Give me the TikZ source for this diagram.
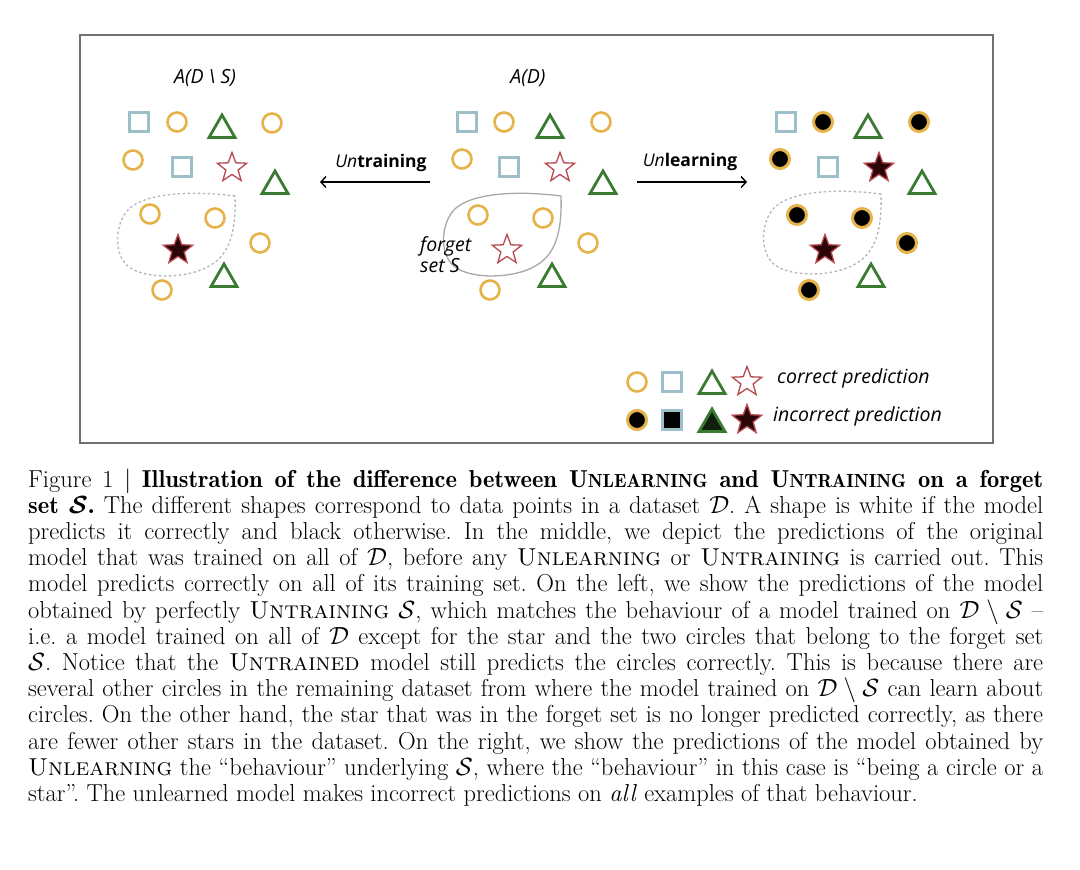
\documentclass[tikz,border=0pt]{standalone}
\usepackage{fontspec}
\newfontfamily\lab{Open Sans}
\usetikzlibrary{shapes.geometric,arrows.meta}
\definecolor{corange}{HTML}{E6B34A}
\definecolor{cblue}{HTML}{9DBFC8}
\definecolor{cgreen}{HTML}{3A7A32}
\definecolor{cred}{HTML}{B8474F}
\definecolor{cdstar}{HTML}{2B0608}
\definecolor{cdtri}{HTML}{0F1F0C}
\definecolor{cframe}{HTML}{707070}
\definecolor{cblob}{HTML}{A8A8A8}
\newcommand\bsc[1]{{\fontsize{19pt}{19pt}\selectfont #1}}
\newcommand\cS{\mathcal{S}}
\newcommand\cD{\mathcal{D}}
\newcommand\demi{\fontseries{b}\selectfont}
\frenchspacing
\begin{document}
\begin{tikzpicture}[x=1pt,y=-1pt,
 pt/.style={inner sep=0pt, outer sep=0pt},
 ccirc/.style={pt,circle,draw=corange,line width=2.6pt,minimum size=19pt},
 icirc/.style={ccirc,fill=black,line width=3pt},
 csq/.style={pt,rectangle,draw=cblue,line width=2.6pt,minimum size=19pt},
 isq/.style={csq,fill=black},
 ctri/.style={pt,regular polygon,regular polygon sides=3,draw=cgreen,line width=2.8pt,minimum size=30pt},
 itri/.style={ctri,fill=cdtri},
 cstar/.style={pt,star,star points=5,star point ratio=2.4,draw=cred,line width=1.3pt,minimum size=31pt},
 istar/.style={cstar,fill=cdstar},
 lbl/.style={inner sep=0pt,font=\lab\fontsize{17.5pt}{21pt}\selectfont},
 big/.style={inner sep=0pt,font=\lab\fontsize{19.5pt}{21pt}\selectfont},
 arr/.style={line width=1.4pt,-{Straight Barb[length=5pt,width=11pt]}},
 blobsolid/.style={draw=cblob,line width=1.3pt},
 blobdash/.style={draw=cblob!85,line width=1.3pt,dash pattern=on 2.5pt off 2.5pt},
 capline/.style={anchor=base west,inner sep=0pt,font=\fontsize{24.5pt}{26pt}\selectfont\frenchspacing},
]
\useasboundingbox (0,0) rectangle (1080,870);
\fill[white] (0,0) rectangle (1080,870);
\draw[cframe,line width=1.2pt] (80,35) rectangle (993,443);

% blobs
\draw[blobsolid] (561,196) .. controls (530,192) and (478,190) .. (456,208)
  .. controls (440,222) and (438,258) .. (458,269)
  .. controls (478,280) and (520,278) .. (540,263)
  .. controls (558,250) and (562,225) .. (561,196) -- cycle;
\begin{scope}[xshift=-326pt]
\draw[blobdash] (561,196) .. controls (530,192) and (478,190) .. (456,208)
  .. controls (440,222) and (438,258) .. (458,269)
  .. controls (478,280) and (520,278) .. (540,263)
  .. controls (558,250) and (562,225) .. (561,196) -- cycle;
\end{scope}
\begin{scope}[xshift=320pt,yshift=2pt]
\draw[blobdash] (561,196) .. controls (530,192) and (478,190) .. (456,208)
  .. controls (440,222) and (438,258) .. (458,269)
  .. controls (478,280) and (520,278) .. (540,263)
  .. controls (558,250) and (562,225) .. (561,196) -- cycle;
\end{scope}

% left cluster
\foreach \s/\x/\y [count=\i] in {csq/139/122, ccirc/177/122, ctri/222/130, ccirc/272/123, ccirc/133/160, csq/182/167, cstar/232/168, ctri/275/186, ccirc/150/214, ccirc/215/218, ccirc/260/243, istar/178/250, ctri/224/279, ccirc/162/290}
  \node[\s] (l\i) at (\x,\y) {};
% middle cluster
\foreach \s/\x/\y [count=\i] in {csq/467/122, ccirc/504/122, ctri/550/130, ccirc/601/122, ccirc/462/159, csq/509/167, cstar/560/168, ctri/603/186, ccirc/478/215, ccirc/543/218, ccirc/588/243, cstar/507/250, ctri/552/279, ccirc/490/290}
  \node[\s] (m\i) at (\x,\y) {};
% right cluster
\foreach \s/\x/\y [count=\i] in {csq/786/122, icirc/823/122, ctri/868/130, icirc/919/122, icirc/780/159, csq/828/167, istar/879/168, ctri/922/186, icirc/797/215, icirc/862/218, icirc/907/243, istar/825/250, ctri/871/279, icirc/809/290}
  \node[\s] (r\i) at (\x,\y) {};

% labels
\node[big] (tl) at (205,78) {\itshape A(D \textbackslash\ S)};
\node[big] (tm) at (528,78) {\itshape A(D)};
\node[big] (fs) [anchor=west,align=left] at (420,255) {\itshape forget\\\itshape set S};
\node[lbl] (untr) at (381,163) {\textit{Un}\textbf{training}};
\node[lbl] (unl) at (690,162) {\textit{Un}\textbf{learning}};
\coordinate (ua) at (430,182);
\coordinate (ub) at (320,182);
\coordinate (la) at (637,182);
\coordinate (lb) at (747,182);
\draw[arr] (ua) -- (ub);
\draw[arr] (la) -- (lb);

% legend
\node[ccirc] (g1) at (637,382) {};
\node[csq] (g2) at (672,382) {};
\node[ctri] (g3) at (712,386) {};
\node[cstar] (g4) at (747,382) {};
\node[big,anchor=west] (gt1) at (777,378) {\itshape correct prediction};
\node[icirc] (g5) at (637,420) {};
\node[isq] (g6) at (672,420) {};
\node[itri] (g7) at (712,424) {};
\node[istar] (g8) at (747,420) {};
\node[big,anchor=west] (gt2) at (773,416) {\itshape incorrect prediction};

% caption
\node[capline] (c1) at (28,487) {\makebox[1015pt][s]{Figure 1 | {\demi Illustration of the difference between U\bsc{NLEARNING} and U\bsc{NTRAINING} on a forget}}};
\node[capline] (c2) at (28,513.2) {\makebox[1015pt][s]{{\demi set {\boldmath$\cS$}.} The different shapes correspond to data points in a dataset $\cD$. A shape is white if the model}};
\node[capline] (c3) at (28,539.4) {\makebox[1015pt][s]{predicts it correctly and black otherwise. In the middle, we depict the predictions of the original}};
\node[capline] (c4) at (28,565.6) {\makebox[1015pt][s]{model that was trained on all of $\cD$, before any \textsc{Unlearning} or \textsc{Untraining} is carried out. This}};
\node[capline] (c5) at (28,591.8) {\makebox[1015pt][s]{model predicts correctly on all of its training set. On the left, we show the predictions of the model}};
\node[capline] (c6) at (28,618) {\makebox[1015pt][s]{obtained by perfectly \textsc{Untraining} $\cS$, which matches the behaviour of a model trained on $\cD\setminus\cS$ –}};
\node[capline] (c7) at (28,644.2) {\makebox[1015pt][s]{i.e. a model trained on all of $\cD$ except for the star and the two circles that belong to the forget set}};
\node[capline] (c8) at (28,670.4) {\makebox[1015pt][s]{$\cS$. Notice that the \textsc{Untrained} model still predicts the circles correctly. This is because there are}};
\node[capline] (c9) at (28,696.6) {\makebox[1015pt][s]{several other circles in the remaining dataset from where the model trained on $\cD\setminus\cS$ can learn about}};
\node[capline] (c10) at (28,722.8) {\makebox[1015pt][s]{circles. On the other hand, the star that was in the forget set is no longer predicted correctly, as there}};
\node[capline] (c11) at (28,749) {\makebox[1015pt][s]{are fewer other stars in the dataset. On the right, we show the predictions of the model obtained by}};
\node[capline] (c12) at (28,775.2) {\makebox[1015pt][s]{\textsc{Unlearning} the “behaviour” underlying $\cS$, where the “behaviour” in this case is “being a circle or a}};
\node[capline] (c13) at (28,801.4) {star”. The unlearned model makes incorrect predictions on \textit{all} examples of that behaviour.};
\end{tikzpicture}
\end{document}
